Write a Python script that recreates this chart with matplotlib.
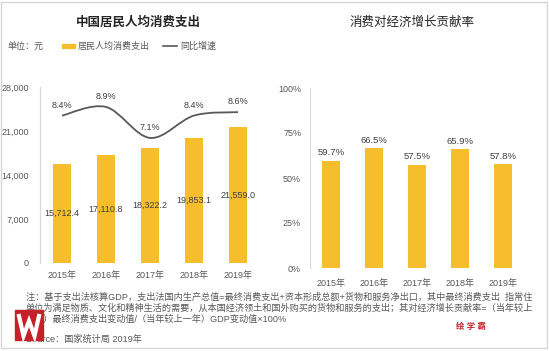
import numpy as np
import matplotlib
matplotlib.use('Agg')
import matplotlib.pyplot as plt
from matplotlib.path import Path
from matplotlib.patches import PathPatch, Rectangle
from matplotlib.lines import Line2D

plt.rcParams['font.family'] = ['Liberation Sans', 'Noto Sans CJK SC']

years = ['2015年', '2016年', '2017年', '2018年', '2019年']
spending = [15712.4, 17110.8, 18322.2, 19853.1, 21559.0]   # 居民人均消费支出 (元)
growth = [8.4, 8.9, 7.1, 8.4, 8.6]                        # 同比增速 (%)
contrib = [59.7, 66.5, 57.5, 65.9, 57.8]                  # 消费对经济增长贡献率 (%)

yellow = '#F6BE2C'
gray = '#595959'
dark = '#404040'

W, H = 549, 351
fig = plt.figure(figsize=(5.49, 3.51), dpi=100)


def fx(px):
    return px / W


def fy(py):
    return 1 - py / H


# ---- left chart ----
x = np.arange(len(years))
ax1 = fig.add_axes([fx(40), fy(263), 220 / W, 176 / H])
ax1.patch.set_alpha(0)
ax1.bar(x, spending, width=0.41, color=yellow, zorder=2)
for i, v in enumerate(spending):
    ax1.text(i, v / 2, f'{v:,.1f}', ha='center', va='center', fontsize=6.5,
             color=dark, zorder=3)
ax1.set_xlim(-0.5, 4.5)
ax1.set_ylim(0, 28000)
ax1.set_yticks(np.arange(0, 28001, 7000))
ax1.set_yticklabels([f'{t:,}' for t in range(0, 28001, 7000)])
ax1.set_xticks(x)
ax1.set_xticklabels(years)
for s in ['top', 'right', 'bottom']:
    ax1.spines[s].set_visible(False)
ax1.spines['left'].set_color('#d9d9d9')
ax1.tick_params(axis='y', length=0, labelsize=6.5, colors=gray, pad=8)
ax1.tick_params(axis='x', length=0, labelsize=6.5, colors=gray, pad=6)

# growth line on hidden twin axis, smoothed with bezier segments
ax1b = ax1.twinx()
ax1b.set_ylim(-0.17, 10.06)
ax1b.axis('off')
pts = np.column_stack([x, growth]).astype(float)
ext = np.vstack([pts[0], pts, pts[-1]])
verts = [pts[0]]
codes = [Path.MOVETO]
for i in range(len(pts) - 1):
    p0, p1, p2, p3 = ext[i], ext[i + 1], ext[i + 2], ext[i + 3]
    verts += [p1 + (p2 - p0) / 6, p2 - (p3 - p1) / 6, p2]
    codes += [Path.CURVE4] * 3
ax1b.add_patch(PathPatch(Path(verts, codes), facecolor='none',
                         edgecolor=gray, lw=1.3, zorder=4))
for i, g in enumerate(growth):
    ax1b.annotate(f'{g}%', (i, g), xytext=(0, 7.5), textcoords='offset points',
                  ha='center', va='center', fontsize=6.5, color=dark)

# ---- right chart ----
ax2 = fig.add_axes([fx(309.5), fy(268), 215 / W, 180 / H])
ax2.patch.set_alpha(0)
ax2.bar(x, contrib, width=0.42, color=yellow, zorder=2)
for i, v in enumerate(contrib):
    ax2.annotate(f'{v}%', (i, v), xytext=(0, 5.5), textcoords='offset points',
                 ha='center', va='center', fontsize=6.8, color=dark)
ax2.set_xlim(-0.5, 4.5)
ax2.set_ylim(0, 100)
ax2.set_yticks([0, 25, 50, 75, 100])
ax2.set_yticklabels([f'{t}%' for t in [0, 25, 50, 75, 100]])
ax2.set_xticks(x)
ax2.set_xticklabels(years)
for s in ['top', 'right', 'bottom']:
    ax2.spines[s].set_visible(False)
ax2.spines['left'].set_color('#d9d9d9')
ax2.tick_params(axis='y', length=0, labelsize=6.5, colors=gray, pad=6)
ax2.tick_params(axis='x', length=0, labelsize=6.5, colors=gray, pad=8)

# ---- titles & legend ----
fig.text(fx(138), fy(23), '中国居民人均消费支出', ha='center', va='center',
         fontsize=9, color='#262626', weight='bold')
fig.text(fx(412), fy(23), '消费对经济增长贡献率', ha='center', va='center',
         fontsize=9, color='#262626')

fig.text(fx(7), fy(46), '单位：元', va='center', fontsize=6.5, color=gray)
fig.add_artist(Rectangle((fx(62), fy(48)), 13 / W, 4 / H, color=yellow,
                         transform=fig.transFigure))
fig.text(fx(78), fy(46), '居民人均消费支出', va='center', fontsize=6.5, color=gray)
fig.add_artist(Line2D([fx(163), fx(177)], [fy(46), fy(46)], color=gray, lw=1.2,
                      transform=fig.transFigure))
fig.text(fx(180), fy(46), '同比增速', va='center', fontsize=6.5, color=gray)

# ---- footnote ----
notes = [
    '注：基于支出法核算GDP，支出法国内生产总值=最终消费支出+资本形成总额+货物和服务净出口，其中最终消费支出  指常住',
    '单位为满足物质、文化和精神生活的需要，从本国经济领土和国外购买的货物和服务的支出；其对经济增长贡献率=（当年较上',
    '一年）最终消费支出变动值/（当年较上一年）GDP变动值×100%',
]
for k, line in enumerate(notes):
    fig.text(fx(26), fy(297 + 11 * k), line, va='center', fontsize=6.6, color=gray)
fig.text(fx(26), fy(339), 'Source：国家统计局 2019年', va='center', fontsize=6.6,
         color=gray)

# logo marks (red box with a white W stroke)
fig.add_artist(Rectangle((fx(15), fy(340)), 28 / W, 30 / H, color='#C42129',
                         transform=fig.transFigure, zorder=5))
fig.add_artist(Line2D([fx(19), fx(23.5), fx(29), fx(34.5), fx(39)],
                      [fy(316), fy(336), fy(321), fy(336), fy(316)],
                      color='white', lw=3, solid_joinstyle='miter',
                      transform=fig.transFigure, zorder=6))
fig.text(fx(471), fy(327), '绘 学 霸', ha='center', va='center', fontsize=6,
         color='#C42129', weight='bold')

# frame
fig.add_artist(Rectangle((fx(1), fy(348)), 546 / W, 346 / H, fill=False,
                         edgecolor='#d6d6d6', lw=1, transform=fig.transFigure))

fig.savefig('out.png', dpi=100)
